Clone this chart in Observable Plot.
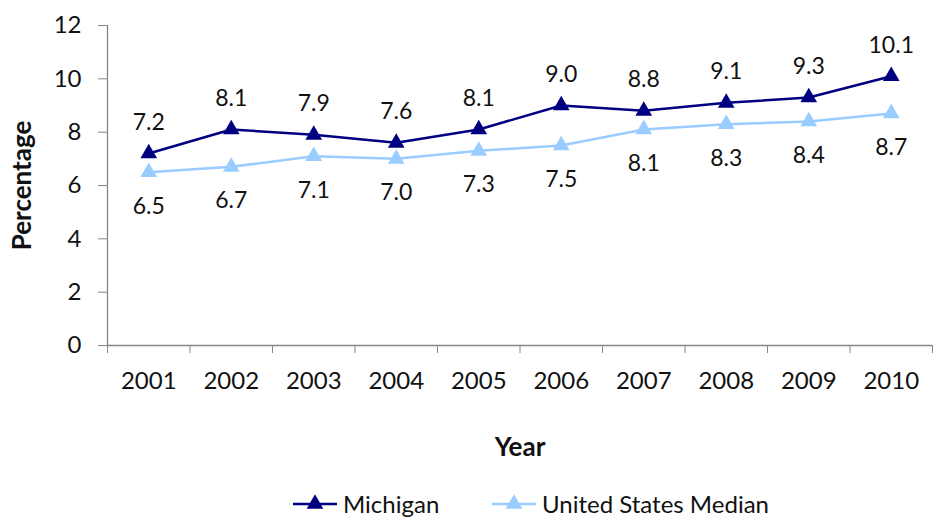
<!DOCTYPE html>
<html><head><meta charset="utf-8">
<script src="https://cdn.jsdelivr.net/npm/d3@7"></script>
<script src="https://cdn.jsdelivr.net/npm/@observablehq/plot@0.6"></script>
<style>
body{margin:0;background:#fff;font-family:Lato,sans-serif;color:#111;}
#legend{position:relative;height:32px;width:933px;}
.item{position:absolute;top:-1px;height:30px;display:flex;align-items:center;font-size:24px;line-height:28px;}
.item svg{margin-right:6px;}
</style></head><body>
<div id="chart"></div>
<div id="legend"></div>
<script>
const years = [2001, 2002, 2003, 2004, 2005, 2006, 2007, 2008, 2009, 2010];
const michigan = [7.2, 8.1, 7.9, 7.6, 8.1, 9.0, 8.8, 9.1, 9.3, 10.1];
const usMedian = [6.5, 6.7, 7.1, 7.0, 7.3, 7.5, 8.1, 8.3, 8.4, 8.7];
const yTicks = [0, 2, 4, 6, 8, 10, 12];
const seriesNames = ["Michigan", "United States Median"];
const seriesColors = ["#000080", "#99CCFF"];

const data = years.flatMap((y, i) => [
  {year: y, value: michigan[i], series: seriesNames[0]},
  {year: y, value: usMedian[i], series: seriesNames[1]}
]);
const bounds = [years[0] - 0.5, ...years.map(y => y + 0.5)];
const axisColor = "#868686";

const chart = Plot.plot({
  width: 933,
  height: 490,
  marginLeft: 107,
  marginRight: 1,
  marginTop: 25,
  marginBottom: 145,
  style: {fontFamily: "Lato, sans-serif", fontSize: "24px", color: "#111", background: "#fff"},
  x: {domain: [bounds[0], bounds[bounds.length - 1]], axis: null},
  y: {domain: [0, 12], axis: null},
  color: {domain: seriesNames, range: seriesColors},
  marks: [
    Plot.ruleY([0], {stroke: axisColor, strokeWidth: 1.3}),
    Plot.ruleX([bounds[0]], {stroke: axisColor, strokeWidth: 1.3}),
    Plot.axisY({ticks: yTicks, tickSize: 9, tickPadding: 17, stroke: axisColor, label: null, fontSize: 24}),
    Plot.axisX({ticks: years, tickSize: 0, tickPadding: 26, tickFormat: d => String(d), label: null, fontSize: 24}),
    Plot.axisX({ticks: bounds, tickSize: 8, tickFormat: () => "", stroke: axisColor, label: null}),
    Plot.text(["Percentage"], {frameAnchor: "left", textAnchor: "middle", lineAnchor: "middle", dx: -85, rotate: -90, fontWeight: "bold", fontSize: 26}),
    Plot.text(["Year"], {frameAnchor: "bottom", textAnchor: "middle", lineAnchor: "middle", dy: 102, fontWeight: "bold", fontSize: 26}),
    Plot.line(data, {x: "year", y: "value", stroke: "series", z: "series", strokeWidth: 2.5}),
    Plot.dot(data, {x: "year", y: "value", fill: "series", symbol: "triangle", r: 6.2}),
    Plot.text(data.filter(d => d.series === seriesNames[0]), {x: "year", y: "value", text: d => d.value.toFixed(1), dy: -31, fontSize: 23, fill: "#111"}),
    Plot.text(data.filter(d => d.series === seriesNames[1]), {x: "year", y: "value", text: d => d.value.toFixed(1), dy: 34, fontSize: 23, fill: "#111"})
  ]
});
document.getElementById("chart").appendChild(chart);

const legend = document.getElementById("legend");
const lefts = [293, 492];
const tri = d3.symbol(d3.symbolTriangle, Math.PI * 6.2 * 6.2)();
seriesNames.forEach((name, i) => {
  const div = document.createElement("div");
  div.className = "item";
  div.style.left = lefts[i] + "px";
  div.innerHTML = `<svg width="44" height="20"><line x1="0" x2="44" y1="10" y2="10" stroke="${seriesColors[i]}" stroke-width="2.5"/><path d="${tri}" transform="translate(22,10)" fill="${seriesColors[i]}"/></svg><span>${name}</span>`;
  legend.appendChild(div);
});
</script>
</body></html>
